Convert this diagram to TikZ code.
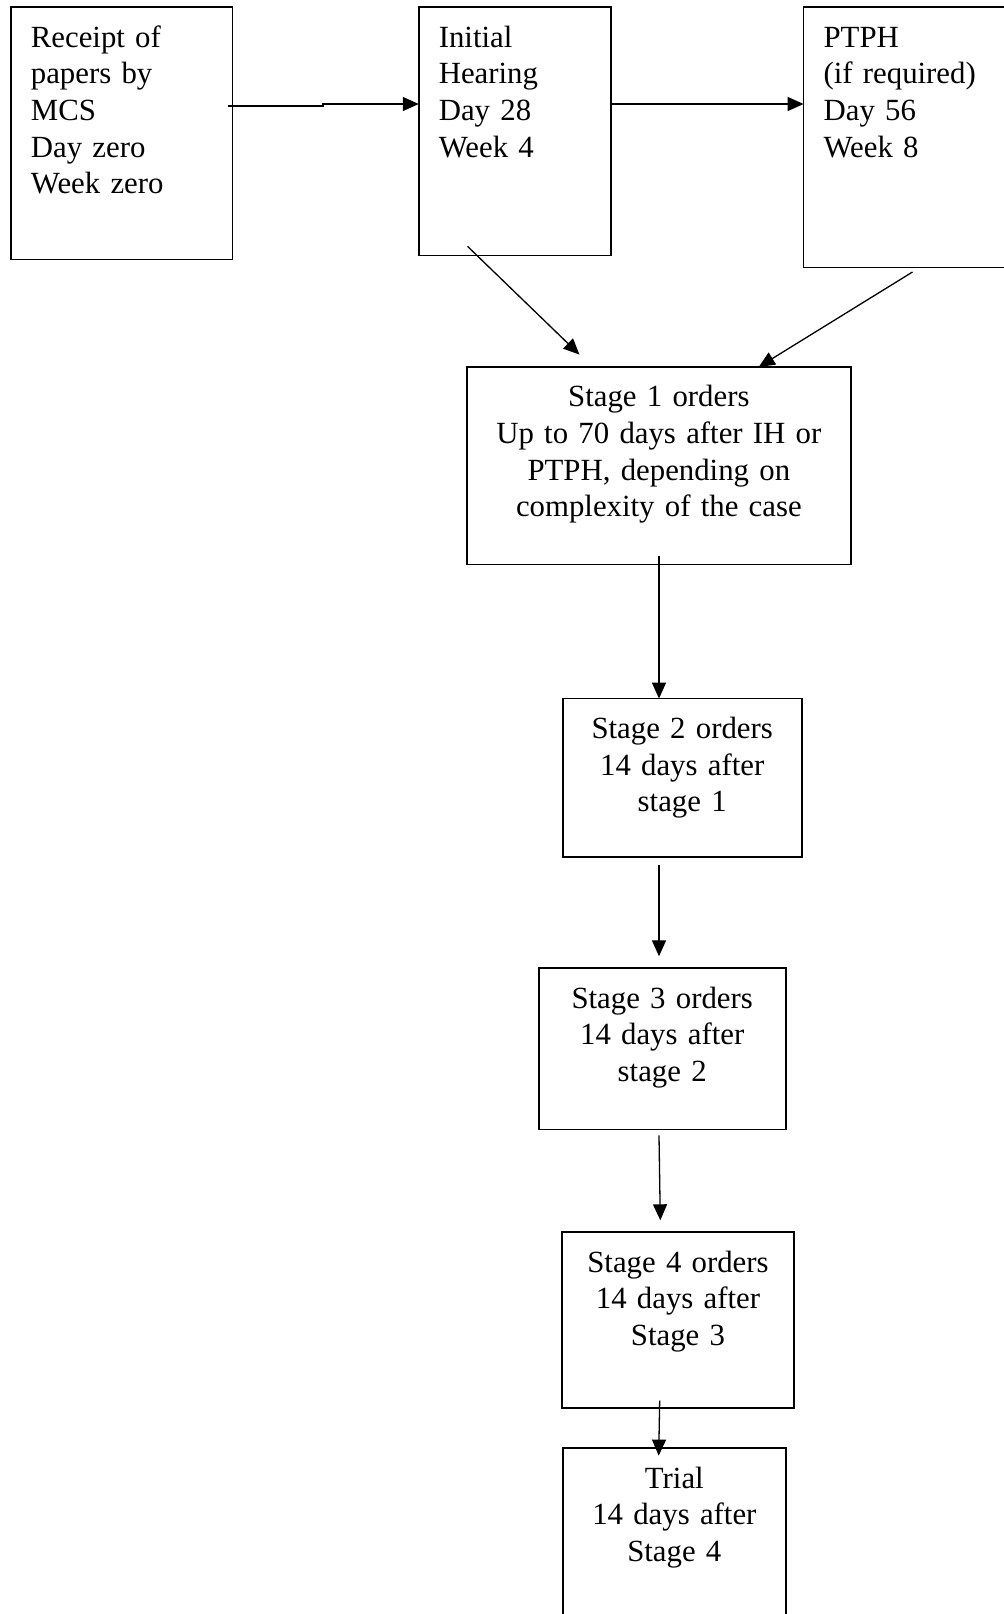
\documentclass[tikz,border=0pt]{standalone}
\usepackage{fontspec}
\setmainfont{Liberation Serif}
\usepackage{tikz}
\usetikzlibrary{arrows.meta, positioning}
\tikzstyle{stagebox}=[rectangle, draw=black, line width=0.85pt, inner xsep=10pt, inner ysep=0pt, outer sep=0pt, text height=20pt, font=\fontsize{15.4}{18.3}\selectfont]
\tikzstyle{leftbox}=[stagebox, align=left]
\tikzstyle{midbox}=[stagebox, align=center]
\tikzstyle{link}=[->, line width=0.65pt]

\begin{document}
\begin{tikzpicture}[x=0.5pt, y=-0.5pt, >={Triangle[length=8pt, width=7pt]}]
    \useasboundingbox (0,0) rectangle (1004,1614);

    \node[leftbox, text width=90.75pt, text depth=106.15pt, anchor=north west] (rec) at (10.9,7.3)
          {Receipt of\\papers by\\MCS\\Day zero\\Week zero};
    \node[leftbox, text width=76.05pt, text depth=104.15pt] (ih)
          [right=93.2pt of rec.north east, anchor=north west]
          {Initial\\Hearing\\Day 28\\Week 4};
    \node[leftbox, text width=90pt, text depth=110.15pt] (ptph)
          [right=96.35pt of ih.north east, anchor=north west]
          {PTPH\\(if required)\\Day 56\\Week 8};

    \node[midbox, text width=172.15pt, text depth=78.85pt] (s1)
          [below right=55.65pt and 23.95pt of ih.south west]
          {Stage 1 orders\\Up to 70 days after IH or\\PTPH, depending on\\complexity of the case};
    \node[midbox, text width=99.5pt, text depth=59.2pt] (s2)
          [below right=67pt and 48pt of s1.south west]
          {Stage 2 orders\\14 days after\\stage 1};
    \node[midbox, text width=103.5pt, text depth=60.8pt] (s3)
          [below left=55.5pt and 12pt of s2.south west, anchor=north west]
          {Stage 3 orders\\14 days after\\stage 2};
    \node[midbox, text width=95.7pt, text depth=67.8pt] (s4)
          [below right=51.35pt and 11.8pt of s3.south west]
          {Stage 4 orders\\14 days after\\Stage 3};
    \node[midbox, text width=91.65pt, text depth=80.85pt] (trial)
          [below right=20.2pt and 0.2pt of s4.south west]
          {Trial\\14 days after\\Stage 4};

    \draw[link] ([xshift=-2.45pt, yshift=-49.35pt]rec.north east) -- ++(95.5,0)
          |- ([yshift=-48.35pt]ih.north west);
    \draw[link] ([yshift=-48.35pt]ih.north east) -- ([yshift=-48.35pt]ptph.north west);
    \draw[link] ([xshift=24.35pt, yshift=4.65pt]ih.south west)
          -- ([xshift=56.4pt, yshift=6.15pt]s1.north west);
    \draw[link] ([xshift=54.45pt, yshift=-2.2pt]ptph.south west)
          -- ([xshift=146.05pt]s1.north west);

    \draw[link] ([xshift=96.15pt, yshift=4.15pt]s1.south west) -- ([xshift=48.15pt]s2.north west);
    \draw[link] ([xshift=48.15pt, yshift=-4.15pt]s2.south west)
          -- ([xshift=60.15pt, yshift=5.85pt]s3.north west);
    \draw[link] ([xshift=60.15pt, yshift=-2.85pt]s3.south west)
          -- ([xshift=49pt, yshift=6pt]s4.north west);
    \draw[link] ([xshift=48.7pt, yshift=3.65pt]s4.south west)
          -- ([xshift=48pt, yshift=-3.65pt]trial.north west);
  \end{tikzpicture}
\end{document}
